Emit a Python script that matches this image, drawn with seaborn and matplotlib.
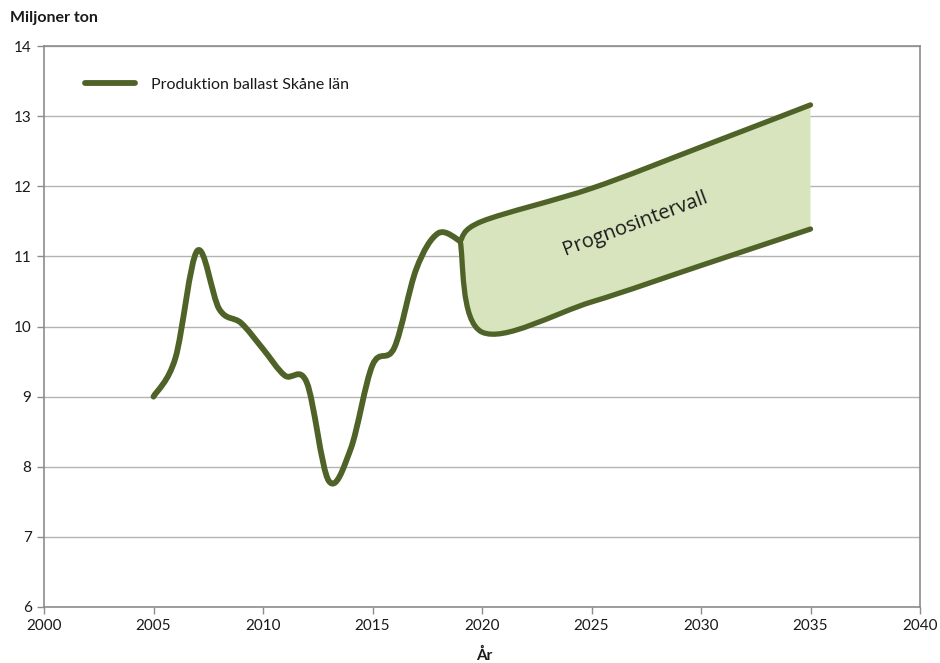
import numpy as np
import pandas as pd
import matplotlib
matplotlib.use("Agg")
import matplotlib.pyplot as plt
import seaborn as sns
from matplotlib.path import Path
from matplotlib.patches import PathPatch
from matplotlib.lines import Line2D

# ---- data ----
years = [2005, 2006, 2007, 2008, 2009, 2010, 2011, 2012, 2013, 2014, 2015, 2016, 2017, 2018, 2019]
production = [9.0, 9.55, 11.08, 10.25, 10.05, 9.68, 9.3, 9.2, 7.8, 8.25, 9.45, 9.7, 10.82, 11.33, 11.22]

fc_years = [2019, 2020, 2025, 2030, 2035]
fc_upper = [11.22, 11.5, 11.97, 12.56, 13.16]
fc_lower = [11.22, 9.92, 10.35, 10.87, 11.39]

x_ticks = [2000, 2005, 2010, 2015, 2020, 2025, 2030, 2035, 2040]
y_ticks = [6, 7, 8, 9, 10, 11, 12, 13, 14]

legend_label = "Produktion ballast Skåne län"
y_title = "Miljoner ton"
x_title = "År"
band_label = "Prognosintervall"

LINE = "#4f6228"
FILL = "#d7e4bd"

sns.set_theme(style="white")
plt.rcParams["font.family"] = ["Lato", "DejaVu Sans"]

df = pd.DataFrame({"year": years, "value": production})
fc = pd.DataFrame({"year": fc_years, "upper": fc_upper, "lower": fc_lower})


def smooth_verts(x, y):
    """Excel-like smoothed line: Catmull-Rom segments as cubic Bezier curves."""
    pts = np.column_stack([x, y]).astype(float)
    n = len(pts)
    verts = [pts[0]]
    codes = [Path.MOVETO]
    for i in range(n - 1):
        p0 = pts[i - 1] if i > 0 else pts[i]
        p1 = pts[i]
        p2 = pts[i + 1]
        p3 = pts[i + 2] if i + 2 < n else pts[i + 1]
        c1 = p1 + (p2 - p0) / 6.0
        c2 = p2 - (p3 - p1) / 6.0
        verts += [c1, c2, p2]
        codes += [Path.CURVE4] * 3
    return verts, codes


fig = plt.figure(figsize=(9.4, 6.63), dpi=100)
ax = fig.add_axes([44 / 940, 1 - 607 / 663, (920 - 44) / 940, (607 - 46) / 663])

ax.set_xlim(2000, 2040)
ax.set_ylim(6, 14)
ax.set_xticks(x_ticks)
ax.set_yticks(y_ticks)
ax.yaxis.grid(True, color="#b3b3b3", linewidth=1.0)
ax.xaxis.grid(False)
ax.set_axisbelow(True)
for s in ax.spines.values():
    s.set_visible(True)
    s.set_color("#8c8c8c")
    s.set_linewidth(1.2)
ax.tick_params(axis="both", which="major", direction="out", length=5, width=1,
               color="#8c8c8c", labelsize=11, labelcolor="#1a1a1a", pad=4)
ax.tick_params(axis="x", bottom=True)
ax.tick_params(axis="y", left=True)

# forecast band fill
uv, uc = smooth_verts(fc["year"], fc["upper"])
lv, lc = smooth_verts(fc["year"], fc["lower"])
band_verts = list(uv) + list(lv[::-1]) + [uv[0]]
band_codes = list(uc) + [Path.LINETO] + [Path.CURVE4] * (len(lv) - 1) + [Path.CLOSEPOLY]
ax.add_patch(PathPatch(Path(band_verts, band_codes), facecolor=FILL, edgecolor="none", zorder=2))

# forecast boundary lines
for v, c in [(uv, uc), (lv, lc)]:
    ax.add_patch(PathPatch(Path(v, c), facecolor="none", edgecolor=LINE, linewidth=3.8,
                           capstyle="round", joinstyle="round", zorder=3))

# production line
pv, pc = smooth_verts(df["year"], df["value"])
ax.add_patch(PathPatch(Path(pv, pc), facecolor="none", edgecolor=LINE, linewidth=4.2,
                       capstyle="round", joinstyle="round", zorder=4))

ax.set_xlabel("")
ax.set_ylabel("")

fig.text(10 / 940, 1 - 18 / 663, y_title, fontsize=11.5, fontweight="bold",
         ha="left", va="center", color="#1a1a1a")
fig.text(484 / 940, 1 - 655 / 663, x_title, fontsize=11, fontweight="bold",
         ha="center", va="center", color="#1a1a1a")

ax.text(2027.0, 11.47, band_label, fontsize=14.5, rotation=20.5, ha="center", va="center",
        color="#1a1a1a", family=["Open Sans", "DejaVu Sans"], zorder=5)

handle = Line2D([0], [0], color=LINE, linewidth=4.2, solid_capstyle="round")
leg = ax.legend([handle], [legend_label], loc="upper left", frameon=False,
                bbox_to_anchor=(0.04, 0.955), handlelength=3.1, handletextpad=1.0,
                fontsize=11.5, borderaxespad=0)
for t in leg.get_texts():
    t.set_color("#1a1a1a")

fig.savefig("out.png", dpi=100)
